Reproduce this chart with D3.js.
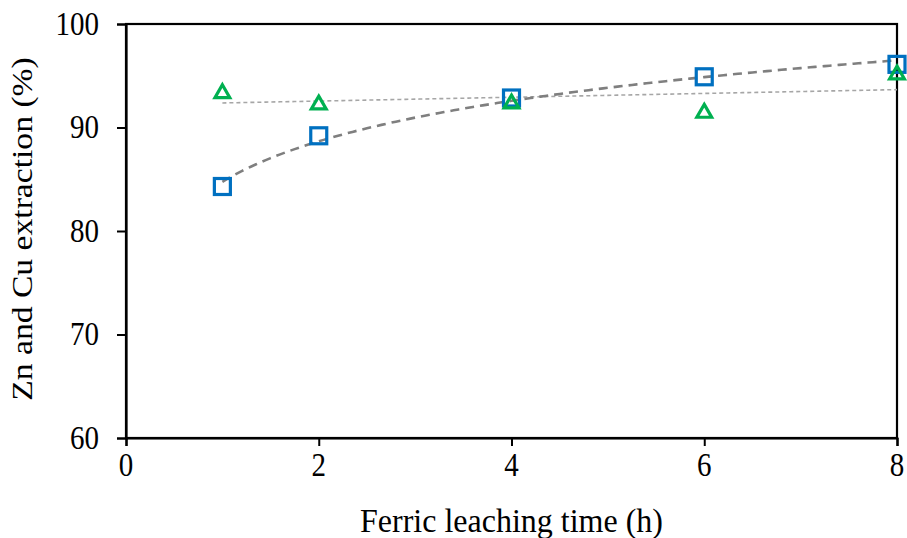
<!DOCTYPE html>
<html><head><meta charset="utf-8">
<script src="https://cdn.jsdelivr.net/npm/d3@7"></script>
<style>
body{margin:0;background:#fff;}
</style></head>
<body><svg id="c" width="907" height="538"></svg>
<script>
const hours = [1, 2, 4, 6, 8];
const cuExtraction = [84.3, 89.2, 92.85, 94.9, 96.1];   // blue squares
const znExtraction = [93.4, 92.3, 92.4, 91.5, 95.2];    // green triangles
const xTicks = [0, 2, 4, 6, 8];
const yTicks = [60, 70, 80, 90, 100];
const xTitle = "Ferric leaching time (h)";
const yTitle = "Zn and Cu extraction (%)";

const FONT = "'Times New Roman', 'Liberation Serif', serif";
const STRETCH = 1.13; // reference text is slightly taller than wide
const svg = d3.select("#c");
const L = 126, R = 897, T = 24, B = 438;
const x = d3.scaleLinear().domain([0, 8]).range([L, R]);
const y = d3.scaleLinear().domain([60, 100]).range([B, T]);

// frame
svg.append("rect").attr("x", L).attr("y", T).attr("width", R - L).attr("height", B - T)
  .attr("fill", "none").attr("stroke", "#000").attr("stroke-width", 2.2);

const fs = 29;
const xa = svg.append("g").attr("transform", `translate(0,${B})`)
  .call(d3.axisBottom(x).tickValues(xTicks).tickSize(8).tickFormat(""));
const ya = svg.append("g").attr("transform", `translate(${L},0)`)
  .call(d3.axisLeft(y).tickValues(yTicks).tickSize(9).tickFormat(""));
[xa, ya].forEach(a => {
  a.select(".domain").attr("stroke", "#000").attr("stroke-width", 2.2);
  a.selectAll(".tick line").attr("stroke", "#000").attr("stroke-width", 2);
});
// tick labels (stretched vertically like the reference)
svg.append("g").selectAll("text").data(xTicks).enter().append("text")
  .attr("transform", d => `translate(${x(d)},476) scale(1,${STRETCH})`)
  .attr("text-anchor", "middle").style("font-family", FONT).style("font-size", fs + "px")
  .text(d3.format("d"));
svg.append("g").selectAll("text").data(yTicks).enter().append("text")
  .attr("transform", d => `translate(99,${y(d)}) scale(1,${STRETCH})`)
  .attr("dy", "0.33em")
  .attr("text-anchor", "end").style("font-family", FONT).style("font-size", fs + "px")
  .text(d3.format("d"));

// trend lines computed from the data
function fit(xs, ys) {
  const mx = d3.mean(xs), my = d3.mean(ys);
  const b = d3.sum(xs, (v, i) => (v - mx) * (ys[i] - my)) / d3.sum(xs, v => (v - mx) ** 2);
  return [my - b * mx, b];
}
const [aL, bL] = fit(hours.map(Math.log), cuExtraction);
const [aZ, bZ] = fit(hours, znExtraction);
const tx = d3.range(1, 8.0001, 0.05);
const line = d3.line().x(d => x(d[0])).y(d => y(d[1]));
svg.append("path").datum(tx.map(t => [t, aZ + bZ * t]))
  .attr("d", line).attr("fill", "none").attr("stroke", "#a6a6a6")
  .attr("stroke-width", 1.6).attr("stroke-dasharray", "4,3");
svg.append("path").datum(tx.map(t => [t, aL + bL * Math.log(t)]))
  .attr("d", line).attr("fill", "none").attr("stroke", "#7f7f7f")
  .attr("stroke-width", 2.6).attr("stroke-dasharray", "9,6");

// markers
const sq = 16;
svg.selectAll("rect.sq").data(hours).enter().append("rect").attr("class", "sq")
  .attr("x", (d) => x(d) - sq / 2).attr("y", (d, i) => y(cuExtraction[i]) - sq / 2)
  .attr("width", sq).attr("height", sq)
  .attr("fill", "none").attr("stroke", "#0070c0").attr("stroke-width", 3.2);
const tri = d3.symbol().type(d3.symbolTriangle).size(95);
svg.selectAll("path.tri").data(hours).enter().append("path").attr("class", "tri")
  .attr("d", tri).attr("transform", (d, i) => `translate(${x(d)},${y(znExtraction[i]) + 1})`)
  .attr("fill", "none").attr("stroke", "#00b050").attr("stroke-width", 3.2).attr("stroke-linejoin", "miter");

// titles
svg.append("text").attr("transform", `translate(${(L + R) / 2},532) scale(1,1.08)`)
  .attr("text-anchor", "middle")
  .style("font-family", FONT).style("font-size", "32px").text(xTitle);
svg.append("text").attr("transform", `translate(32,229) rotate(-90) scale(1.16,1)`)
  .attr("text-anchor", "middle").style("font-family", FONT).style("font-size", "29px").text(yTitle);
</script></body></html>
